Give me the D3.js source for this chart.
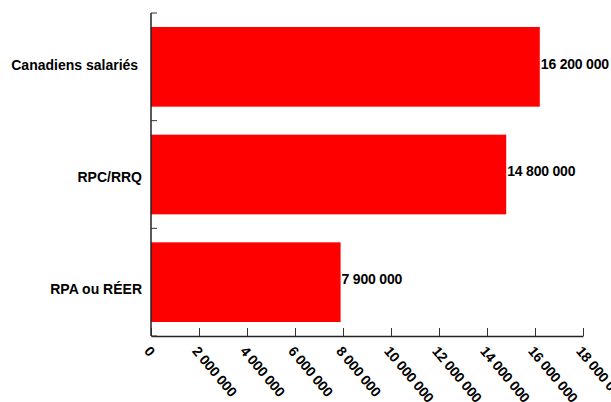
<!DOCTYPE html>
<html>
<head>
<meta charset="utf-8">
<script src="https://cdn.jsdelivr.net/npm/d3@7"></script>
<style>
  html, body { margin: 0; padding: 0; background: #fff; }
  text { font-family: "Liberation Sans", Arial, sans-serif; font-weight: bold; font-size: 14px; letter-spacing: -0.2px; fill: #000; }
  text.cat { letter-spacing: 0; }
</style>
</head>
<body>
<svg id="chart" width="611" height="402"></svg>
<script>
// Nombre de personnes par catégorie
const categories = ["Canadiens salariés ", "RPC/RRQ", "RPA ou RÉER"];
const values = [16200000, 14800000, 7900000];
const valueLabels = ["16 200 000", "14 800 000", "7 900 000"];
const xTicks = [0, 2000000, 4000000, 6000000, 8000000, 10000000, 12000000, 14000000, 16000000, 18000000];
const xTickLabels = ["0", "2 000 000", "4 000 000", "6 000 000", "8 000 000", "10 000 000", "12 000 000", "14 000 000", "16 000 000", "18 000 000"];

const svg = d3.select("#chart");
const plotLeft = 151, plotRight = 583, plotTop = 13, plotBottom = 336;

const x = d3.scaleLinear().domain([0, 18000000]).range([plotLeft, plotRight]);
const y = d3.scaleBand().domain(categories).range([plotTop, plotBottom]).paddingInner(0.26).paddingOuter(0.13);
const yb = d3.scaleBand().domain(categories).range([plotTop, plotBottom]);
// Position des libellés de catégories (légèrement étalée vers le bas)
const yLabel = d3.scaleBand().domain(categories).range([9, 345]);

// Barres
svg.append("g").selectAll("rect")
  .data(values)
  .join("rect")
  .attr("x", x(0))
  .attr("y", (d, i) => y(categories[i]))
  .attr("width", d => x(d) - x(0))
  .attr("height", y.bandwidth())
  .attr("fill", "#ff0000");

// Axe horizontal
const xAxis = svg.append("g").attr("transform", `translate(0,${plotBottom})`)
  .call(d3.axisTop(x).tickValues(xTicks).tickSize(8).tickSizeOuter(0).tickFormat(""));
xAxis.select(".domain").attr("stroke", "#222").attr("stroke-width", 1.5);
xAxis.selectAll(".tick line").attr("stroke", "#333");

svg.append("g").selectAll("text")
  .data(xTicks)
  .join("text")
  .attr("transform", d => `translate(${x(d)},${plotBottom + 9}) rotate(50)`)
  .attr("dy", "0.71em")
  .text((d, i) => xTickLabels[i]);

// Axe vertical
const yAxis = svg.append("g").attr("transform", `translate(${plotLeft},0)`);
yAxis.append("line").attr("x1", 0).attr("x2", 0).attr("y1", plotTop).attr("y2", plotBottom)
  .attr("stroke", "#222").attr("stroke-width", 1.5);
const bandEdges = categories.map(c => yb(c)).concat([plotBottom]);
yAxis.selectAll("line.tk").data(bandEdges).join("line").attr("class", "tk")
  .attr("x1", 0).attr("x2", 6).attr("y1", d => d).attr("y2", d => d)
  .attr("stroke", "#333");

// Libellés de catégories
svg.append("g").selectAll("text")
  .data(categories)
  .join("text")
  .attr("class", "cat")
  .attr("x", 142)
  .attr("y", d => yLabel(d) + yLabel.bandwidth() / 2)
  .attr("dy", "0.35em")
  .attr("text-anchor", "end")
  .style("white-space", "pre")
  .text(d => d);

// Valeurs
svg.append("g").selectAll("text")
  .data(values)
  .join("text")
  .attr("x", d => x(d) + 1)
  .attr("y", (d, i) => y(categories[i]) + y.bandwidth() / 2 - 3)
  .attr("dy", "0.35em")
  .text((d, i) => valueLabels[i]);
</script>
</body>
</html>
